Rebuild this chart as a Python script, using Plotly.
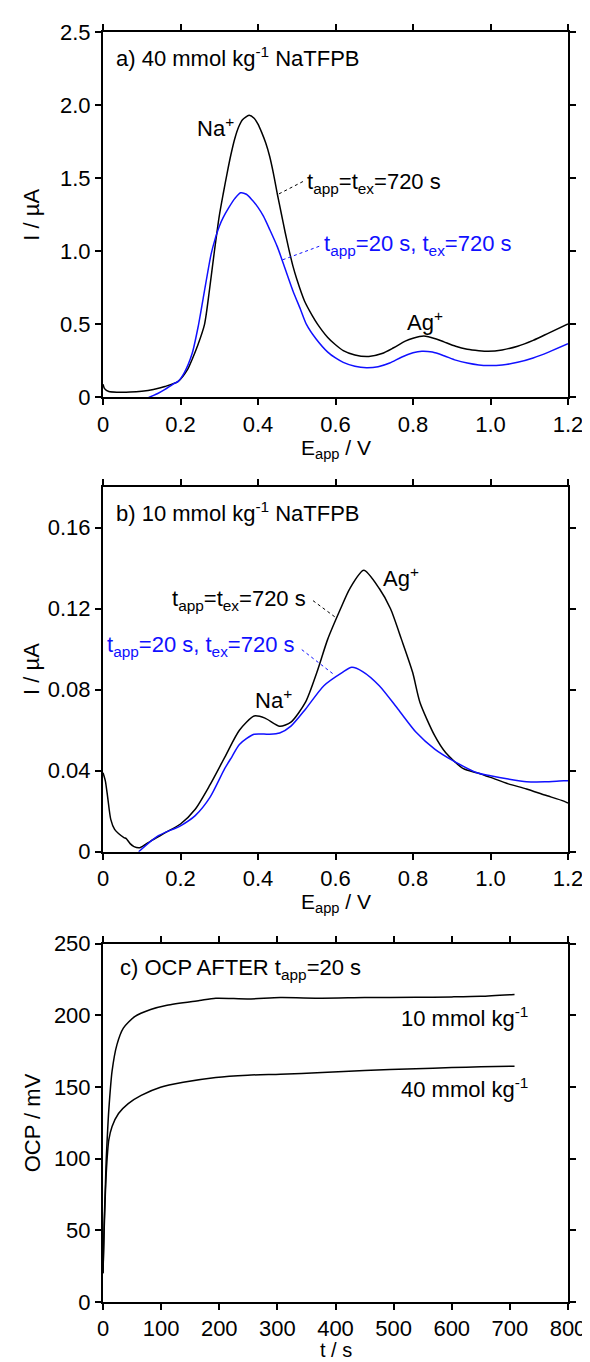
import plotly.graph_objects as go

# ---------------- data ----------------
# Panel a: 40 mmol/kg NaTFPB
Ea_black = [0, 0.004, 0.015, 0.04, 0.07, 0.10, 0.13, 0.16, 0.194, 0.218, 0.23, 0.245, 0.262, 0.275, 0.287,
            0.30, 0.31, 0.32, 0.33, 0.34, 0.35, 0.36, 0.377, 0.39, 0.40, 0.41, 0.42, 0.43, 0.44, 0.45,
            0.46, 0.47, 0.48, 0.49, 0.50, 0.52, 0.54, 0.554, 0.58, 0.60, 0.62, 0.65, 0.686, 0.72, 0.75,
            0.78, 0.80, 0.828, 0.86, 0.88, 0.91, 0.94, 0.97, 0.994, 1.03, 1.07, 1.11, 1.15, 1.2]
Ia_black = [0.09, 0.06, 0.04, 0.036, 0.037, 0.043, 0.055, 0.075, 0.11, 0.19, 0.26, 0.36, 0.5, 0.74, 0.99,
            1.24, 1.39, 1.53, 1.66, 1.77, 1.85, 1.90, 1.93, 1.91, 1.87, 1.81, 1.74, 1.65, 1.53, 1.39,
            1.26, 1.13, 1.01, 0.90, 0.81, 0.66, 0.56, 0.5, 0.41, 0.36, 0.32, 0.29, 0.28, 0.30, 0.34,
            0.385, 0.405, 0.42, 0.40, 0.38, 0.35, 0.33, 0.32, 0.316, 0.325, 0.35, 0.39, 0.44, 0.503]

Ea_blue = [0.118, 0.14, 0.16, 0.18, 0.194, 0.21, 0.23, 0.246, 0.26, 0.279, 0.29, 0.30, 0.31, 0.325, 0.34,
           0.355, 0.37, 0.385, 0.40, 0.414, 0.43, 0.45, 0.47, 0.49, 0.51, 0.525, 0.55, 0.58, 0.60, 0.62,
           0.65, 0.68, 0.71, 0.74, 0.77, 0.80, 0.823, 0.85, 0.88, 0.91, 0.94, 0.97, 0.994, 1.03, 1.07,
           1.11, 1.15, 1.2]
Ia_blue = [0.0, 0.025, 0.055, 0.09, 0.11, 0.17, 0.3, 0.49, 0.7, 0.98, 1.09, 1.17, 1.23, 1.30, 1.36,
           1.40, 1.39, 1.35, 1.30, 1.24, 1.15, 1.03, 0.88, 0.73, 0.60, 0.5, 0.40, 0.31, 0.27, 0.24,
           0.213, 0.203, 0.21, 0.235, 0.275, 0.305, 0.316, 0.31, 0.285, 0.255, 0.235, 0.222, 0.218, 0.222, 0.24,
           0.27, 0.31, 0.367]

# Panel b: 10 mmol/kg NaTFPB
Eb_black = [0, 0.006, 0.012, 0.02, 0.03, 0.04, 0.054, 0.06, 0.07, 0.08, 0.095, 0.124, 0.162, 0.2, 0.238,
            0.276, 0.314, 0.352, 0.39, 0.418, 0.456, 0.485, 0.523, 0.552, 0.58, 0.613, 0.637, 0.673, 0.713,
            0.742, 0.77, 0.799, 0.818, 0.856, 0.884, 0.93, 0.965, 1.0, 1.046, 1.093, 1.14, 1.189, 1.2]
Ib_black = [0.039, 0.035, 0.027, 0.016, 0.011, 0.009, 0.007, 0.0065, 0.004, 0.0025, 0.002, 0.0054, 0.0095, 0.0137, 0.021,
            0.033, 0.0466, 0.060, 0.067, 0.066, 0.062, 0.064, 0.074, 0.0886, 0.105, 0.12, 0.13, 0.139, 0.13,
            0.12, 0.105, 0.0886, 0.0737, 0.0573, 0.049, 0.041, 0.039, 0.0367, 0.0335, 0.031, 0.028, 0.025, 0.024]

Eb_blue = [0.092, 0.143, 0.2, 0.238, 0.276, 0.314, 0.333, 0.352, 0.39, 0.428, 0.456, 0.485, 0.523, 0.57,
           0.618, 0.642, 0.67, 0.713, 0.761, 0.808, 0.856, 0.903, 0.965, 1.0, 1.046, 1.093, 1.14, 1.189, 1.2]
Ib_blue = [0.0, 0.0079, 0.0128, 0.0178, 0.0268, 0.041, 0.047, 0.053, 0.058, 0.058, 0.0586, 0.062, 0.0705, 0.082,
           0.0886, 0.0911, 0.089, 0.082, 0.0705, 0.059, 0.0507, 0.045, 0.039, 0.0375, 0.0359, 0.0346, 0.0345, 0.035, 0.035]

# Panel c: OCP after t_app = 20 s
t_10 = [0, 2, 4, 5.6, 8, 10, 15.6, 24, 35, 54.5, 82, 110, 166, 194, 249, 305, 377, 450, 538, 600, 650, 708]
V_10 = [20, 55, 80, 100, 120, 134, 161, 179.5, 191, 199, 204, 207, 210.3, 211.9, 211.4, 212.3, 211.9, 212.3,
        212.5, 212.8, 213.2, 214.5]
t_40 = [0, 2, 4, 5.6, 8, 10, 15.6, 26.7, 43.4, 65.7, 99, 138, 194, 249, 305, 377, 450, 538, 600, 650, 708]
V_40 = [20, 50, 75, 90, 105, 113, 122.4, 131.5, 138.4, 144.1, 149.8, 153.2, 156.6, 158.2, 158.9, 160,
        161.5, 162.7, 163.5, 164, 164.5]

# ticks
E_ticks = [0, 0.2, 0.4, 0.6, 0.8, 1.0, 1.2]
E_ticktext = ["0", "0.2", "0.4", "0.6", "0.8", "1.0", "1.2"]
Ia_ticks = [0, 0.5, 1.0, 1.5, 2.0, 2.5]
Ia_ticktext = ["0", "0.5", "1.0", "1.5", "2.0", "2.5"]
Ib_ticks = [0, 0.04, 0.08, 0.12, 0.16]
Ib_ticktext = ["0", "0.04", "0.08", "0.12", "0.16"]
t_ticks = [0, 100, 200, 300, 400, 500, 600, 700, 800]
V_ticks = [0, 50, 100, 150, 200, 250]

# ---------------- figure ----------------
FONT = "Arial, Liberation Sans, sans-serif"
BLACK = "#000000"
BLUE = "#1010ff"
W, H = 590, 1362
ML, MR, MT, MB = 95, 17, 22, 68
PH = H - MT - MB


def py(px):
    return (H - MB - px) / PH


def pxx(px):
    return (px - ML) / (W - ML - MR)


def line(color):
    return dict(color=color, width=1.5, shape="spline", smoothing=0.7)


fig = go.Figure()
fig.add_trace(go.Scatter(x=Ea_black, y=Ia_black, mode="lines", line=line(BLACK), xaxis="x", yaxis="y"))
fig.add_trace(go.Scatter(x=Ea_blue, y=Ia_blue, mode="lines", line=line(BLUE), xaxis="x", yaxis="y"))
fig.add_trace(go.Scatter(x=Eb_black, y=Ib_black, mode="lines", line=line(BLACK), xaxis="x2", yaxis="y2"))
fig.add_trace(go.Scatter(x=Eb_blue, y=Ib_blue, mode="lines", line=line(BLUE), xaxis="x2", yaxis="y2"))
fig.add_trace(go.Scatter(x=t_10, y=V_10, mode="lines", line=line(BLACK), xaxis="x3", yaxis="y3"))
fig.add_trace(go.Scatter(x=t_40, y=V_40, mode="lines", line=line(BLACK), xaxis="x3", yaxis="y3"))

axis_common = dict(showline=True, linecolor=BLACK, linewidth=2, mirror="ticks", ticks="outside",
                   ticklen=6, tickwidth=2, tickcolor=BLACK, showgrid=False, zeroline=False,
                   tickfont=dict(family=FONT, size=22, color=BLACK))

dom_a = [py(388), py(22)]
dom_b = [py(843), py(478)]
dom_c = [py(1294), py(935)]

fig.update_layout(
    width=W, height=H, margin=dict(l=ML, r=MR, t=MT, b=MB),
    paper_bgcolor="white", plot_bgcolor="white", showlegend=False,
    font=dict(family=FONT, size=22, color=BLACK),
    xaxis=dict(range=[0, 1.2], tickvals=E_ticks, ticktext=E_ticktext, anchor="y", **axis_common),
    yaxis=dict(range=[0, 2.5], tickvals=Ia_ticks, ticktext=Ia_ticktext, domain=dom_a, anchor="x", **axis_common),
    xaxis2=dict(range=[0, 1.2], tickvals=E_ticks, ticktext=E_ticktext, anchor="y2", **axis_common),
    yaxis2=dict(range=[0, 0.18], tickvals=Ib_ticks, ticktext=Ib_ticktext, domain=dom_b, anchor="x2", **axis_common),
    xaxis3=dict(range=[0, 800], tickvals=t_ticks, anchor="y3", **axis_common),
    yaxis3=dict(range=[0, 250], tickvals=V_ticks, domain=dom_c, anchor="x3", **axis_common),
)

ann = []


def A(text, x, y, xref, yref, xanchor="left", yanchor="middle", color=BLACK, size=22, angle=0):
    ann.append(dict(text=text, x=x, y=y, xref=xref, yref=yref, xanchor=xanchor, yanchor=yanchor,
                    showarrow=False, textangle=angle, font=dict(family=FONT, size=size, color=color)))


# axis titles
A("I / \u00b5A", pxx(22), py(205), "paper", "paper", "center", "middle", angle=-90)
A("I / \u00b5A", pxx(22), py(660), "paper", "paper", "center", "middle", angle=-90)
A("OCP / mV", pxx(22), py(1114), "paper", "paper", "center", "middle", angle=-90)
A("E<sub>app</sub> / V", 0.5, py(440), "paper", "paper", "center", "middle", size=21)
A("E<sub>app</sub> / V", 0.5, py(894), "paper", "paper", "center", "middle", size=21)
A("t / s", 0.5, py(1342), "paper", "paper", "center", "middle", size=20)

# panel a
A("a) 40 mmol kg<sup>-1</sup> NaTFPB", 0.028, 2.33, "x", "y")
A("Na<sup>+</sup>", 0.342, 1.85, "x", "y", "right")
A("t<sub>app</sub>=t<sub>ex</sub>=720 s", 0.522, 1.47, "x", "y")
A("t<sub>app</sub>=20 s, t<sub>ex</sub>=720 s", 0.565, 1.04, "x", "y", color=BLUE)
A("Ag<sup>+</sup>", 0.83, 0.52, "x", "y", "center")
# panel b
A("b) 10 mmol kg<sup>-1</sup> NaTFPB", 0.028, 0.168, "x2", "y2")
A("Na<sup>+</sup>", 0.44, 0.0754, "x2", "y2", "center")
A("Ag<sup>+</sup>", 0.77, 0.1357, "x2", "y2", "center")
A("t<sub>app</sub>=t<sub>ex</sub>=720 s", 0.53, 0.1241, "x2", "y2", "right")
A("t<sub>app</sub>=20 s, t<sub>ex</sub>=720 s", 0.50, 0.1018, "x2", "y2", "right", color=BLUE)
# panel c
A("c) OCP AFTER t<sub>app</sub>=20 s", 25, 232, "x3", "y3")
A("10 mmol kg<sup>-1</sup>", 735, 199, "x3", "y3", "right")
A("40 mmol kg<sup>-1</sup>", 735, 149, "x3", "y3", "right")

fig.update_layout(annotations=ann)

shapes = [
    dict(type="line", xref="x", yref="y", x0=0.516, y0=1.477, x1=0.45, y1=1.387,
         line=dict(color=BLACK, width=1, dash="dot")),
    dict(type="line", xref="x", yref="y", x0=0.558, y0=1.034, x1=0.462, y1=0.94,
         line=dict(color=BLUE, width=1, dash="dot")),
    dict(type="line", xref="x2", yref="y2", x0=0.542, y0=0.124, x1=0.599, y1=0.1159,
         line=dict(color=BLACK, width=1, dash="dot")),
    dict(type="line", xref="x2", yref="y2", x0=0.513, y0=0.0998, x1=0.594, y1=0.0878,
         line=dict(color=BLUE, width=1, dash="dot")),
]
fig.update_layout(shapes=shapes)

fig.write_html("out.html")
